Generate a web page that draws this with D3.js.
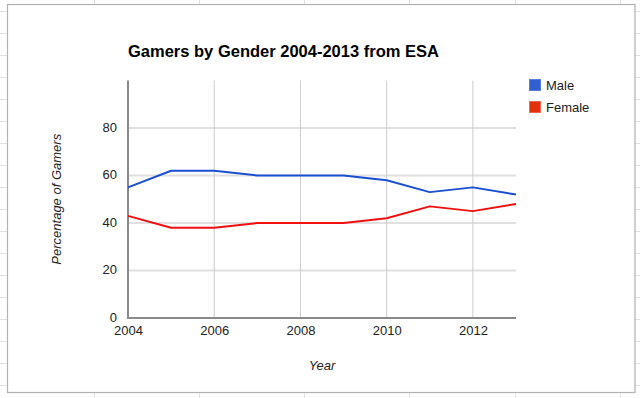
<!DOCTYPE html>
<html><head><meta charset="utf-8">
<script src="https://cdn.jsdelivr.net/npm/d3@7"></script>
<style>
html,body{margin:0;padding:0;background:#fff;}
svg{display:block;font-family:Arial,"Liberation Sans",sans-serif;}
</style></head>
<body>
<svg id="c" width="640" height="398"></svg>
<script>
const years = [2004,2005,2006,2007,2008,2009,2010,2011,2012,2013];
const male = [55,62,62,60,60,60,58,53,55,52];
const female = [43,38,38,40,40,40,42,47,45,48];
const seriesNames = ["Male","Female"];
const lineColors = ["#1a4fd1","#f01010"];
const legendColors = ["#2f5fd0","#e0320f"];
const xTicks = [2004,2006,2008,2010,2012];
const yTicks = [0,20,40,60,80];
const titleText = "Gamers by Gender 2004-2013 from ESA";

(function(){
const svg = d3.select("#c");
const W = 640, H = 398;

// spreadsheet background grid
const bg = svg.append("g");
for (let yy = 11.5; yy < H; yy += 22) {
  bg.append("line").attr("x1",0).attr("x2",W).attr("y1",yy).attr("y2",yy).attr("stroke","#e2e2e2");
}
for (let xx = 93.5; xx < W; xx += 105.3) {
  bg.append("line").attr("x1",Math.round(xx)+0.5).attr("x2",Math.round(xx)+0.5).attr("y1",0).attr("y2",H).attr("stroke","#e2e2e2");
}
// chart frame
svg.append("rect").attr("x",7.5).attr("y",4.5).attr("width",627.5).attr("height",388)
  .attr("fill","#fff").attr("stroke","#b0b0b0").attr("stroke-width",1.2);

const pL = 128, pR = 516, pT = 80.5, pB = 318;
const x = d3.scaleLinear().domain([2004,2013]).range([pL,pR]);
const y = d3.scaleLinear().domain([0,100]).range([pB,pT]);

// horizontal gridlines
svg.append("g").selectAll("line").data(yTicks.filter(d=>d>0)).join("line")
  .attr("x1",pL).attr("x2",pR).attr("y1",d=>y(d)).attr("y2",d=>y(d))
  .attr("stroke","#e0e0e0").attr("stroke-width",2);
// vertical gridlines
svg.append("g").selectAll("line").data(xTicks.filter(d=>d>2004)).join("line")
  .attr("x1",d=>x(d)).attr("x2",d=>x(d)).attr("y1",pT).attr("y2",pB)
  .attr("stroke","#cccccc").attr("stroke-width",1);

// axes
const yAxis = svg.append("g").attr("transform",`translate(${pL},-1)`)
  .call(d3.axisLeft(y).tickValues(yTicks).tickSize(0).tickPadding(11));
yAxis.select(".domain").remove();
yAxis.selectAll("text").attr("font-size",13).attr("fill","#222").attr("font-family","Arial,'Liberation Sans',sans-serif");
const xAxis = svg.append("g").attr("transform",`translate(0,${pB})`)
  .call(d3.axisBottom(x).tickValues(xTicks).tickFormat(d3.format("d")).tickSize(0).tickPadding(8));
xAxis.select(".domain").remove();
xAxis.selectAll("text").attr("font-size",13).attr("fill","#222").attr("font-family","Arial,'Liberation Sans',sans-serif");

svg.append("line").attr("x1",pL).attr("x2",pL).attr("y1",pT).attr("y2",pB+1)
  .attr("stroke","#8a8a8a").attr("stroke-width",2);
svg.append("line").attr("x1",pL-1).attr("x2",pR).attr("y1",pB).attr("y2",pB)
  .attr("stroke","#8a8a8a").attr("stroke-width",2);

// lines
const line = d3.line().x((d,i)=>x(years[i])).y(d=>y(d));
[male,female].forEach((s,i)=>{
  svg.append("path").datum(s).attr("d",line).attr("fill","none")
    .attr("stroke",lineColors[i]).attr("stroke-width",2).attr("stroke-linejoin","round");
});

// title
svg.append("text").attr("x",pL).attr("y",57).text(titleText)
  .attr("font-size",16.5).attr("font-weight","bold").attr("fill","#000");

// axis titles
svg.append("text").attr("x",(pL+pR)/2).attr("y",370).attr("text-anchor","middle")
  .attr("font-style","italic").attr("font-size",13).attr("fill","#222").text("Year");
svg.append("text").attr("transform",`translate(61,${(pT+pB)/2}) rotate(-90)`)
  .attr("text-anchor","middle").attr("font-style","italic").attr("font-size",13).attr("fill","#222")
  .text("Percentage of Gamers");

// legend
const lg = svg.append("g");
seriesNames.forEach((n,i)=>{
  const yy = 79 + i*22;
  lg.append("rect").attr("x",529.5).attr("y",yy+0.5).attr("width",11).attr("height",11)
    .attr("fill",legendColors[i]).attr("stroke",i===0?"#5a7fd8":"#e86a50").attr("stroke-width",1);
  lg.append("text").attr("x",546).attr("y",yy+10.5).attr("font-size",13).attr("fill","#222").text(n);
});
})();
</script>
</body></html>
